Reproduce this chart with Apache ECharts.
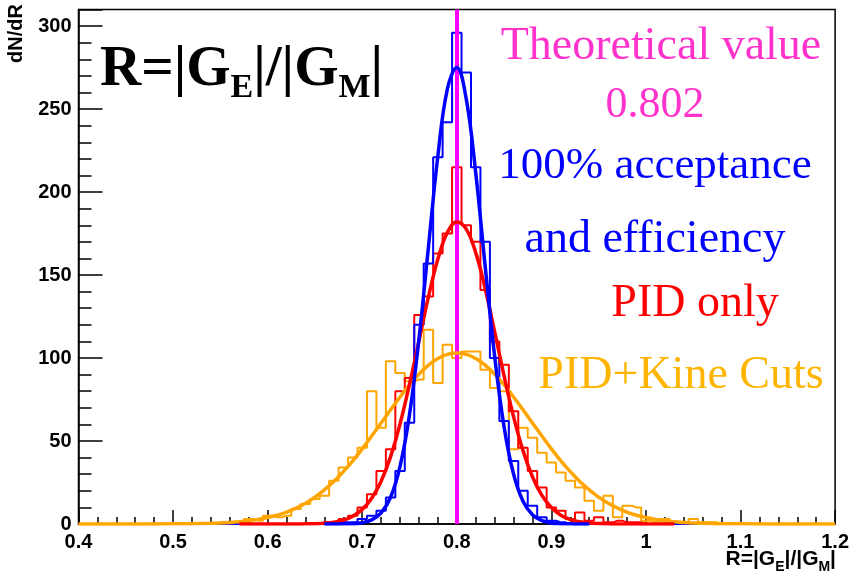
<!DOCTYPE html>
<html><head><meta charset="utf-8">
<script src="https://cdn.jsdelivr.net/npm/echarts@6/dist/echarts.min.js"></script>
<style>html,body{margin:0;padding:0;background:#fff}#c{width:852px;height:580px}</style>
</head><body><div id="c"></div>
<script>
// ---- data ----
const histStart = 0.40;     // centre of first bin
const histBinWidth = 0.01;  // bin width
// bins 0.40 ... 1.20 (81 bins)
const blueCounts = [
  0,0,0,0,0,0,0,0,0,0,
  0,0,0,0,0,0,0,0,0,0,
  0,0,0,0,0,0,0,1,1,1,
  3,5,8,16,32,61,120,157,221,242,
  296,272,215,170,100,62,38,20,11,4,
  2,1,0,0,0,0,0,0,0,0,
  0,0,0,0,0,0,0,0,0,0,
  0,0,0,0,0,0,0,0,0,0,
  0];
const redCounts = [
  0,0,0,0,0,0,0,0,0,0,
  0,0,0,0,0,0,0,0,0,0,
  0,0,0,0,0,0,1,1,3,5,
  10,18,32,45,80,88,126,137,163,175,
  215,180,170,141,110,96,68,46,32,22,
  10,8,3,7,2,4,1,2,1,1,
  0,0,0,0,0,0,0,0,0,0,
  0,0,0,0,0,0,0,0,0,0,
  0];
const orangeCounts = [
  0,0,0,0,0,0,0,0,0,0,
  0,0,0,0,0,1,1,1,3,2,
  5,4,5,9,12,15,17,26,34,40,
  46,80,58,98,91,86,87,117,85,108,
  100,104,104,93,82,80,45,58,52,43,
  37,31,26,22,14,8,17,4,11,10,
  2,1,3,1,1,3,1,1,0,0,
  0,0,0,0,0,0,0,0,0,0,
  0];

// fitted curves
const blueFitX = [0.66,0.67,0.68,0.69,0.70,0.71,0.72,0.73,0.74,0.75,0.76,0.77,0.78,0.79,0.80,0.81,0.82,0.83,0.84,0.85,0.86,0.87,0.88,0.89,0.90,0.91,0.92,0.93,0.94];
const blueFitY = [0,0,0.1,0.2,0.8,2.5,6.7,16.1,34.7,65.9,111.5,166.8,221.8,262,275,256,211.6,155.3,101.2,58.5,30.1,13.7,5.6,2.0,0.6,0.2,0.1,0,0];
const redFitX = [0.57,0.58,0.59,0.60,0.61,0.62,0.63,0.64,0.65,0.66,0.67,0.68,0.69,0.70,0.71,0.72,0.73,0.74,0.75,0.76,0.77,0.78,0.79,0.80,0.81,0.82,0.83,0.84,0.85,0.86,0.87,0.88,0.89,0.90,0.91,0.92,0.93,0.94,0.95,0.96,0.97,0.98,0.99,1.00,1.01,1.02,1.03];
const redFitY = [0,0,0,0,0,0,0,0.1,0.2,0.5,1.1,2.3,4.7,8.8,15.5,25.8,40.6,60.3,84.2,110.4,136.8,159.6,175.6,182,177.7,163.5,141.9,115.9,89.2,64.7,44.2,28.5,17.2,9.9,5.3,2.7,1.3,0.6,0.25,0.1,0,0,0,0,0,0,0];
const orangeFitX = [0.40,0.45,0.50,0.52,0.54,0.55,0.56,0.57,0.58,0.59,0.60,0.61,0.62,0.63,0.64,0.65,0.66,0.67,0.68,0.69,0.70,0.71,0.72,0.73,0.74,0.75,0.76,0.77,0.78,0.79,0.80,0.81,0.82,0.83,0.84,0.85,0.86,0.87,0.88,0.89,0.90,0.91,0.92,0.93,0.94,0.95,0.96,0.97,0.98,0.99,1.00,1.01,1.02,1.03,1.04,1.05,1.06,1.08,1.10,1.15,1.20];
const orangeFitY = [0,0,0.1,0.2,0.4,0.6,0.9,1.3,1.9,2.8,3.9,5.3,7.2,9.6,12.5,16.2,20.6,25.6,31.6,38.1,45.3,53.0,60.8,68.8,76.5,83.9,90.3,95.7,99.7,102.2,103,102.2,99.7,95.7,90.3,83.9,76.5,68.8,60.8,53.0,45.3,38.1,31.6,25.6,20.6,16.2,12.5,9.6,7.2,5.3,3.9,2.8,1.9,1.3,0.9,0.6,0.4,0.2,0.1,0,0];

const theoreticalValue = 0.802;
const xTicks = {min: 0.4, max: 1.2, interval: 0.1};
const yTicks = {min: 0, max: 310, interval: 50};

// ---- colours ----
const BLUE = '#0000ff', RED = '#ff0000', ORANGE = '#ffa500', MAGENTA = '#ff00ff';

function histData(counts) {
  return counts.map((v, i) => [+(histStart + i * histBinWidth).toFixed(3), v]);
}
function pairs(xs, ys) { return xs.map((x, i) => [x, ys[i]]); }

const chart = echarts.init(document.getElementById('c'), null, {renderer: 'canvas'});
const SANS = 'Liberation Sans, Arial, sans-serif';
const sansBold = {fontFamily: SANS, fontWeight: 'bold'};
const serif = 'Liberation Serif, Times New Roman, serif';

function histSeries(name, counts, color, z) {
  return {name, type: 'line', step: 'middle', data: histData(counts), symbol: 'none',
          lineStyle: {color, width: 2}, z, animation: false, silent: true};
}
function fitSeries(name, xs, ys, color, z) {
  return {name, type: 'line', smooth: 0.4, data: pairs(xs, ys), symbol: 'none',
          lineStyle: {color, width: 3.5}, z, animation: false, silent: true};
}

chart.setOption({
  animation: false,
  grid: {left: 78.5, right: 16, top: 9.5, bottom: 56, show: true, borderColor: '#000', borderWidth: 1.5, containLabel: false},
  xAxis: {
    type: 'value', min: xTicks.min, max: xTicks.max, interval: xTicks.interval,
    axisLine: {show: true, onZero: false, lineStyle: {color: '#000', width: 1.5}},
    axisTick: {show: true, inside: true, length: 14, lineStyle: {color: '#000', width: 1.5}},
    minorTick: {show: true, splitNumber: 5, length: 7, lineStyle: {color: '#000', width: 1.5}},
    splitLine: {show: false},
    axisLabel: Object.assign({color: '#000', fontSize: 20, margin: 8}, sansBold)
  },
  yAxis: {
    type: 'value', min: yTicks.min, max: yTicks.max, interval: yTicks.interval,
    axisLine: {show: true, lineStyle: {color: '#000', width: 1.5}},
    axisTick: {show: true, inside: true, length: 24, lineStyle: {color: '#000', width: 1.5}},
    minorTick: {show: true, splitNumber: 5, length: 13, lineStyle: {color: '#000', width: 1.5}},
    splitLine: {show: false},
    axisLabel: Object.assign({color: '#000', fontSize: 20, margin: 7,
      formatter: v => (v % 50 === 0 ? String(v) : '')}, sansBold)
  },
  series: [
    histSeries('PID+Kine Cuts', orangeCounts, ORANGE, 2),
    histSeries('PID only', redCounts, RED, 3),
    histSeries('100% acceptance and efficiency', blueCounts, BLUE, 4),
    fitSeries('PID+Kine Cuts fit', orangeFitX, orangeFitY, ORANGE, 5),
    fitSeries('PID only fit', redFitX, redFitY, RED, 6),
    fitSeries('100% fit', blueFitX, blueFitY, BLUE, 7),
    {name: 'Theoretical value', type: 'line', data: [], z: 10, silent: true,
     markLine: {silent: true, symbol: 'none', animation: false, label: {show: false},
       lineStyle: {color: MAGENTA, width: 4, type: 'solid'},
       data: [{xAxis: theoreticalValue}]}}
  ],
  graphic: [
    {type: 'text', x: 100, y: 70, z: 20, style: {
      text: '{b|R=|G}{s|E}{b||/|G}{s|M}{b||}', verticalAlign: 'middle', align: 'left',
      rich: {
        b: {fontFamily: serif, fontWeight: 'bold', fontSize: 57, fill: '#000', lineHeight: 60},
        s: {fontFamily: serif, fontWeight: 'bold', fontSize: 34, fill: '#000', padding: [36, 0, 0, 0]}
      }}},
    {type: 'text', x: 661, y: 47, z: 20, style: {text: 'Theoretical value', font: '46px ' + serif, fill: '#ff33cc', align: 'center', verticalAlign: 'middle'}},
    {type: 'text', x: 655, y: 105, z: 20, style: {text: '0.802', font: '44px ' + serif, fill: '#ff33cc', align: 'center', verticalAlign: 'middle'}},
    {type: 'text', x: 655, y: 166, z: 20, style: {text: '100% acceptance', font: '45px ' + serif, fill: BLUE, align: 'center', verticalAlign: 'middle'}},
    {type: 'text', x: 655, y: 240, z: 20, style: {text: 'and efficiency', font: '46px ' + serif, fill: BLUE, align: 'center', verticalAlign: 'middle'}},
    {type: 'text', x: 695, y: 304, z: 20, style: {text: 'PID only', font: '46px ' + serif, fill: RED, align: 'center', verticalAlign: 'middle'}},
    {type: 'text', x: 681, y: 376, z: 20, style: {text: 'PID+Kine Cuts', font: '46px ' + serif, fill: '#ffb400', align: 'center', verticalAlign: 'middle'}},
    {type: 'text', x: 16, y: 4, rotation: Math.PI / 2, z: 20, style: {text: 'dN/dR', font: 'bold 20px ' + SANS, fill: '#000', align: 'right', verticalAlign: 'middle'}},
    {type: 'text', right: 16, top: 549, z: 20, style: {
      text: '{b|R=|G}{s|E}{b||/|G}{s|M}{b||}', align: 'right', verticalAlign: 'top',
      rich: {
        b: {fontFamily: SANS, fontWeight: 'bold', fontSize: 21, fill: '#000', lineHeight: 24},
        s: {fontFamily: SANS, fontWeight: 'bold', fontSize: 14, fill: '#000', padding: [15, 0, 0, 0]}
      }}}
  ]
});
</script></body></html>
